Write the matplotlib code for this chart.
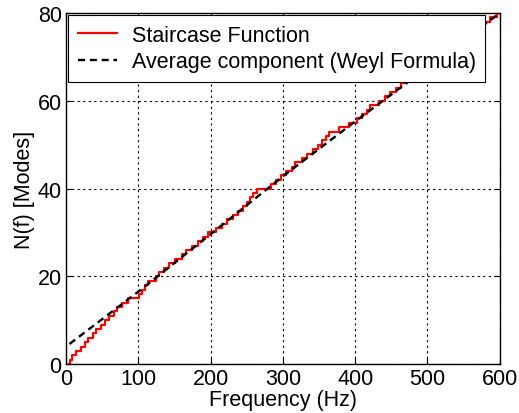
import numpy as np
import matplotlib
matplotlib.use('Agg')
import matplotlib.pyplot as plt

mode_freqs = [5, 9, 14, 21, 26, 31, 37, 42, 48, 54,
              59, 66, 71, 78, 86, 101, 105, 110, 114, 124,
              129, 136, 143, 151, 160, 166, 174, 182, 189, 196,
              208, 216, 223, 231, 238, 245, 250, 255, 259, 264,
              284, 290, 298, 305, 312, 317, 327, 334, 341, 349,
              354, 359, 364, 377, 391, 402, 410, 416, 421, 433,
              441, 448, 456, 463, 470, 478, 486, 494, 502, 510,
              519, 527, 535, 543, 551, 559, 567, 575, 586, 596]
f_start = 4
f_end = 600

# average (Weyl) component, read at a few frequencies
weyl_f = [5, 100, 200, 300, 400, 500, 600]
weyl_n = [4.6, 16.5, 29.6, 42.8, 55.3, 67.6, 80.0]

plt.rcParams['font.family'] = ['Liberation Sans', 'DejaVu Sans']
plt.rcParams['font.size'] = 15.5

fig = plt.figure(figsize=(5.19, 4.14), dpi=100)
ax = fig.add_axes([0.127, 0.118, 0.836, 0.848])

stair_f = [f_start] + mode_freqs + [f_end]
stair_n = list(range(len(mode_freqs) + 1)) + [len(mode_freqs)]
ax.step(stair_f, stair_n, where='post', color='red', lw=1.6,
        label='Staircase Function')
ax.plot(weyl_f, weyl_n, color='black', ls=(0, (3, 2)), lw=1.7,
        label='Average component (Weyl Formula)')

ax.set_xlim(0, 600)
ax.set_ylim(0, 80)
ax.set_xticks(range(0, 601, 100))
ax.set_yticks(range(0, 81, 20))
ax.tick_params(direction='in', top=True, right=True, length=4, pad=3,
               labelsize=15.5)
ax.grid(True, color='black', ls=(0, (2, 3)), lw=0.8)
for s in ax.spines.values():
    s.set_linewidth(1.0)

ax.set_xlabel('Frequency (Hz)', fontsize=15.5, labelpad=0)
ax.set_ylabel('N(f) [Modes]', fontsize=15.5, labelpad=2)

leg = ax.legend(loc='upper left', fontsize=15.5, fancybox=False, framealpha=1,
                edgecolor='black', handlelength=1.8, borderaxespad=0.1,
                labelspacing=0.25, borderpad=0.45, handletextpad=0.7)
leg.get_frame().set_linewidth(0.8)

fig.savefig('out.png', dpi=100)
